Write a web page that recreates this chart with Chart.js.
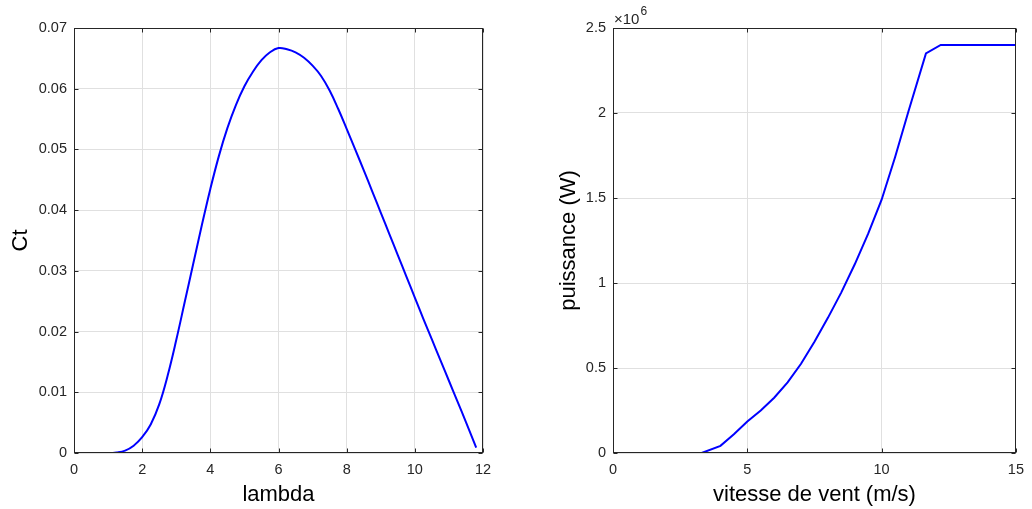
<!DOCTYPE html>
<html>
<head>
<meta charset="utf-8">
<script src="https://cdn.jsdelivr.net/npm/chart.js@4/dist/chart.umd.min.js"></script>
<style>
  html, body { margin: 0; padding: 0; background: #ffffff; }
  #wrap { position: relative; width: 1032px; height: 509px; overflow: hidden; }
  canvas { position: absolute; top: 0; }
  #ctChart { left: 0; }
  #pwChart { left: 516px; }
</style>
</head>
<body>
<div id="wrap">
  <canvas id="ctChart" width="516" height="509"></canvas>
  <canvas id="pwChart" width="516" height="509"></canvas>
</div>
<script>
// Torque coefficient Ct versus tip-speed ratio lambda
const lambda = [0.1, 0.5, 1.0, 1.25, 1.5, 1.75, 2.0, 2.25, 2.5, 2.75, 3.0, 3.25, 3.5, 3.75,
  4.0, 4.25, 4.5, 4.75, 5.0, 5.25, 5.5, 5.75, 6.0, 6.25, 6.5, 6.75, 7.0, 7.25, 7.5, 7.75,
  8.0, 8.25, 8.5, 8.75, 9.0, 9.25, 9.5, 9.75, 10.0, 10.25, 10.5, 10.75, 11.0, 11.25, 11.5, 11.8];
const ct = [0, 0, 0, 0.0001, 0.0004, 0.0012, 0.0026, 0.0047, 0.0080, 0.0128, 0.0186, 0.0249, 0.0312, 0.0375,
  0.0435, 0.0489, 0.0535, 0.0573, 0.0604, 0.0628, 0.0647, 0.0660, 0.0667, 0.0665, 0.0660, 0.0651, 0.0638, 0.0621, 0.0597, 0.0567,
  0.0534, 0.0500, 0.0466, 0.0431, 0.0396, 0.0361, 0.0326, 0.0291, 0.0256, 0.0221, 0.0187, 0.0153, 0.0119, 0.0085, 0.0051, 0.0009];
const lambdaTicks = [0, 2, 4, 6, 8, 10, 12];
const ctTicks = [0, 0.01, 0.02, 0.03, 0.04, 0.05, 0.06, 0.07];

// Turbine power curve (W) versus wind speed (m/s)
const windSpeed = [0, 3.3, 4.0, 4.5, 5.0, 5.5, 6.0, 6.5, 7.0, 7.5, 8.0, 8.5, 9.0, 9.5, 10.0, 10.5, 11.0, 11.65, 12.2, 15];
const power = [0, 0, 0.042e6, 0.11e6, 0.185e6, 0.25e6, 0.325e6, 0.415e6, 0.525e6, 0.655e6, 0.795e6, 0.945e6,
  1.11e6, 1.29e6, 1.49e6, 1.74e6, 2.01e6, 2.35e6, 2.40e6, 2.40e6];
const windTicks = [0, 5, 10, 15];
const powerTicks = [0, 0.5e6, 1e6, 1.5e6, 2e6, 2.5e6];

const FONT = '"Liberation Sans", Arial, Helvetica, sans-serif';
const INK = '#262626';
const GRID = '#e0e0e0';

// Box around the axes with inward tick marks on all four sides (MATLAB style)
const axesBox = {
  id: 'axesBox',
  afterDraw(chart, args, opts) {
    const { ctx, chartArea: a, scales: { x, y } } = chart;
    const L = Math.round(a.left) + 0.5, R = Math.round(a.right) - 0.5;
    const T = Math.round(a.top) + 0.5, B = Math.round(a.bottom) - 0.5;
    const len = 4;
    ctx.save();
    ctx.strokeStyle = INK;
    ctx.lineWidth = 1;
    ctx.strokeRect(L, T, R - L, B - T);
    ctx.beginPath();
    x.ticks.forEach(t => {
      const px = Math.round(x.getPixelForValue(t.value)) + 0.5;
      ctx.moveTo(px, B); ctx.lineTo(px, B - len);
      ctx.moveTo(px, T); ctx.lineTo(px, T + len);
    });
    y.ticks.forEach(t => {
      const py = Math.round(y.getPixelForValue(t.value)) + 0.5;
      ctx.moveTo(L, py); ctx.lineTo(L + len, py);
      ctx.moveTo(R, py); ctx.lineTo(R - len, py);
    });
    ctx.stroke();
    if (opts && opts.exponent) {
      ctx.fillStyle = INK;
      ctx.textBaseline = 'alphabetic';
      ctx.textAlign = 'left';
      ctx.font = '15px ' + FONT;
      const base = '\u00d710';
      const x0 = a.left + 1;
      ctx.fillText(base, x0, 24);
      const w = ctx.measureText(base).width;
      ctx.font = '12px ' + FONT;
      ctx.fillText(opts.exponent, x0 + w + 1, 15);
    }
    ctx.restore();
  }
};

function makeChart(id, cfg) {
  return new Chart(document.getElementById(id), {
    type: 'line',
    data: {
      datasets: [{
        data: cfg.xs.map((v, i) => ({ x: v, y: cfg.ys[i] })),
        borderColor: '#0000ff',
        borderWidth: 2,
        pointRadius: 0,
        fill: false,
        tension: cfg.tension
      }]
    },
    options: {
      responsive: false,
      animation: false,
      devicePixelRatio: 1,
      layout: { padding: { left: 0, right: cfg.padRight, top: 28, bottom: 0 } },
      plugins: {
        legend: { display: false },
        tooltip: { enabled: false },
        axesBox: { exponent: cfg.exponent || null }
      },
      scales: {
        x: {
          type: 'linear',
          min: cfg.xTicks[0],
          max: cfg.xTicks[cfg.xTicks.length - 1],
          afterBuildTicks: s => { s.ticks = cfg.xTicks.map(v => ({ value: v })); },
          afterFit: s => { s.height = 56; },
          grid: { color: GRID, drawTicks: false, lineWidth: 1 },
          border: { display: false },
          ticks: {
            color: INK, padding: 8, maxRotation: 0, autoSkip: false,
            font: { family: FONT, size: 14.5 },
            callback: v => String(v)
          },
          title: {
            display: true, text: cfg.xTitle, color: '#000000',
            font: { family: FONT, size: 22 },
            padding: { top: 0, bottom: 1 }
          }
        },
        y: {
          type: 'linear',
          min: cfg.yTicks[0],
          max: cfg.yTicks[cfg.yTicks.length - 1],
          afterBuildTicks: s => { s.ticks = cfg.yTicks.map(v => ({ value: v })); },
          afterFit: s => { s.width = cfg.yWidth; },
          grid: { color: GRID, drawTicks: false, lineWidth: 1 },
          border: { display: false },
          ticks: {
            color: INK, padding: 7, autoSkip: false,
            font: { family: FONT, size: 14.5 },
            callback: cfg.yFormat
          },
          title: {
            display: true, text: cfg.yTitle, color: '#000000',
            font: { family: FONT, size: 22 },
            padding: { top: cfg.yTitlePad, bottom: 0 }
          }
        }
      }
    },
    plugins: [axesBox]
  });
}

makeChart('ctChart', {
  xs: lambda, ys: ct, tension: 0.4,
  xTicks: lambdaTicks, yTicks: ctTicks,
  xTitle: 'lambda', yTitle: 'Ct',
  yWidth: 74, padRight: 33, yTitlePad: 8,
  yFormat: v => String(+v.toFixed(2))
});

makeChart('pwChart', {
  xs: windSpeed, ys: power, tension: 0,
  xTicks: windTicks, yTicks: powerTicks,
  xTitle: 'vitesse de vent (m/s)', yTitle: 'puissance (W)',
  yWidth: 97, padRight: 11, yTitlePad: 40,
  yFormat: v => String(v / 1e6),
  exponent: '6'
});
</script>
</body>
</html>
